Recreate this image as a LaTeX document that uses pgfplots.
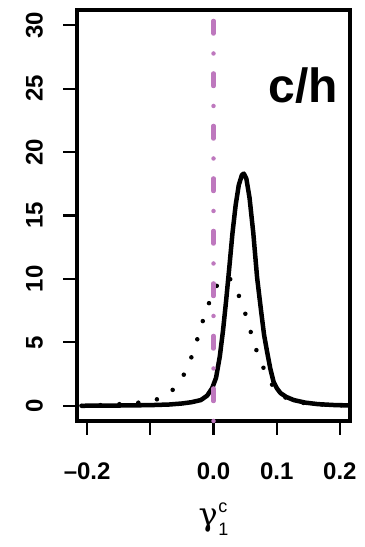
\documentclass[border=0pt]{standalone}
\usepackage{fontspec}
\setmainfont{Liberation Sans}
\newfontfamily\greekfont{DejaVu Serif}
\usepackage{pgfplots}
\pgfplotsset{compat=1.18}
\definecolor{vlc}{RGB}{190,120,190}
\begin{document}
\begin{tikzpicture}[x=1bp,y=1bp]
\useasboundingbox (0,0) rectangle (364,547);
\begin{axis}[
  at={(77bp,126bp)}, anchor=south west,
  scale only axis, width=273bp, height=411bp,
  xmin=-0.216, xmax=0.216, ymin=-1.2, ymax=31.2,
  axis line style={line width=4.5bp},
  clip=false,
  xtick={-0.2,-0.1,0,0.1,0.2},
  xticklabels={–0.2,,0.0,0.1,0.2},
  ytick={0,5,10,15,20,25,30},
  yticklabels={0,5,10,15,20,25,30},
  tick align=outside,
  xtick pos=left, ytick pos=left,
  major tick length=14bp,
  every tick/.style={black, line width=2.2bp},
  xticklabel style={font=\fontsize{24bp}{24bp}\selectfont\bfseries, inner sep=0pt, yshift=-28bp, anchor=north},
  yticklabel style={font=\fontsize{24bp}{24bp}\selectfont\bfseries, inner sep=0pt, xshift=-20bp, rotate=90, anchor=south},
  xlabel={{\greekfont\fontsize{32bp}{32bp}\selectfont γ}\hspace{0.5bp}\makebox[0pt][l]{\raisebox{13bp}{\fontsize{18bp}{18bp}\selectfont c}}\raisebox{-10bp}{\fontsize{18bp}{18bp}\selectfont 1}},
  xlabel style={at={(axis description cs:0.5,0)}, anchor=base, yshift=-104bp, inner sep=0pt},
]
\addplot[black, line width=4.5bp, line join=round] coordinates {
(-0.209,0.0) (-0.15,0.02) (-0.10,0.05) (-0.07,0.1) (-0.05,0.18) (-0.035,0.28)
(-0.02,0.45) (-0.01,0.8) (-0.002,1.4) (0.004,2.2) (0.010,3.9) (0.015,5.9)
(0.020,8.3) (0.025,10.9) (0.030,13.6) (0.035,15.8) (0.040,17.4) (0.045,18.2)
(0.048,18.3) (0.052,17.9) (0.057,16.4) (0.063,13.6) (0.069,10.1) (0.075,7.6)
(0.080,5.6) (0.085,4.2) (0.090,2.9) (0.095,1.9) (0.100,1.4) (0.106,1.0)
(0.115,0.7) (0.127,0.45) (0.145,0.25) (0.165,0.13) (0.19,0.06) (0.213,0.03)
};
\addplot[black, line width=4.5bp, line cap=round, dash pattern=on 0bp off 19bp] coordinates {
(-0.209,0.0) (-0.16,0.08) (-0.134,0.19) (-0.104,0.3) (-0.075,0.72) (-0.054,1.8)
(-0.040,3.1) (-0.030,4.55) (-0.021,6.0) (-0.012,7.5) (0.002,9.2) (0.012,10.0)
(0.022,10.2) (0.030,9.8) (0.036,9.2) (0.047,7.8) (0.056,6.35) (0.064,4.9)
(0.075,3.45) (0.087,2.1) (0.10,1.1) (0.12,0.45) (0.15,0.15) (0.213,0.0)
};
\addplot[vlc, line width=4.5bp, line cap=round, dash pattern=on 0bp off 20bp on 12.5bp off 20bp] coordinates {(0,-1.2) (0,31.2)};
\node[anchor=base east, inner sep=0pt, font=\fontsize{48bp}{48bp}\selectfont\bfseries] at (axis cs:0.197,23.87) {c/h};
\end{axis}
\end{tikzpicture}
\end{document}
